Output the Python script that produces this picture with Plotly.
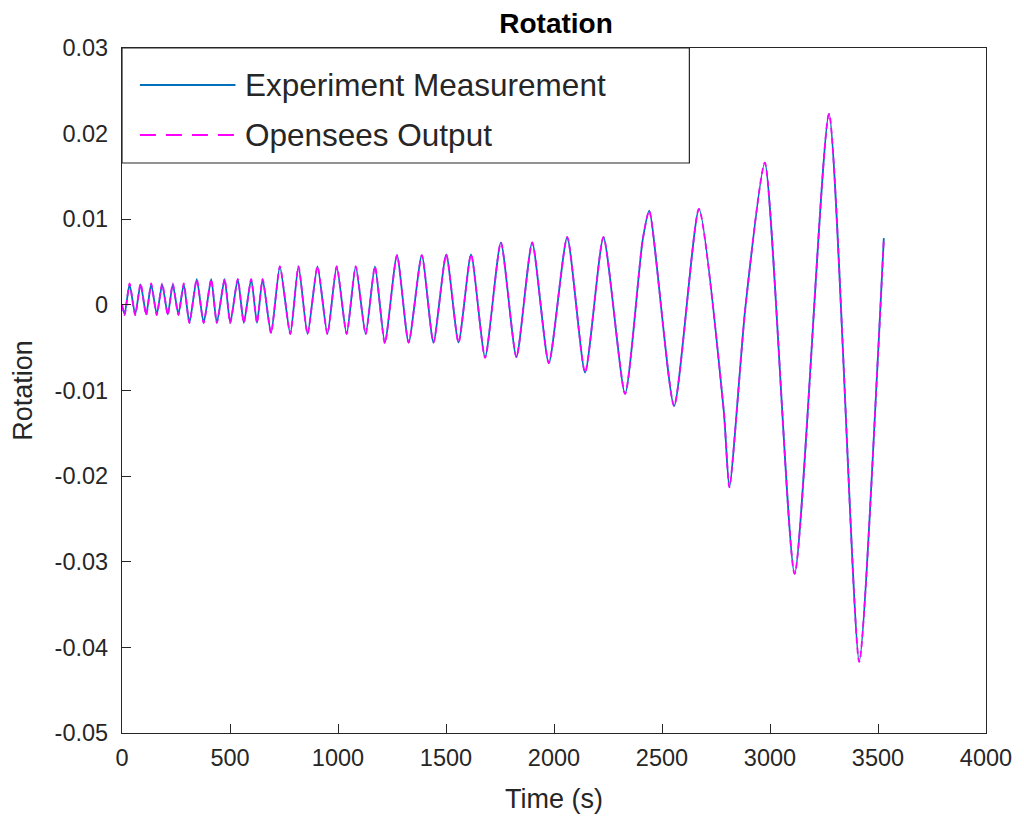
import plotly.graph_objects as go

# Time samples (s) at the turning points
time_s = [0, 12, 35, 61, 86, 112, 135, 161, 186, 212, 235, 261, 286, 312, 346, 378, 413, 439,
          475, 501, 536, 564, 598, 625, 651, 690, 731, 779, 817, 859, 905, 951, 994, 1040,
          1082, 1128, 1171, 1217, 1273, 1327, 1388, 1442, 1501, 1558, 1616, 1681, 1754, 1826,
          1899, 1976, 2061, 2144, 2229, 2329, 2410, 2441, 2556, 2671, 2786, 2812, 2886, 2976,
          3114, 3273, 3413, 3501, 3527]

exp_rotation = [0.0, -0.0011, 0.0024, -0.0011, 0.0024, -0.0011, 0.0024, -0.0011, 0.0024, -0.0011,
                0.0024, -0.0011, 0.0024, -0.0021, 0.003, -0.0021, 0.003, -0.0021, 0.003, -0.0021,
                0.003, -0.0021, 0.003, -0.0021, 0.003, -0.0033, 0.0045, -0.0034, 0.0045, -0.0034,
                0.0045, -0.0034, 0.0045, -0.0034, 0.0045, -0.0034, 0.0045, -0.0044, 0.0058, -0.0044,
                0.0058, -0.0044, 0.0059, -0.0044, 0.0059, -0.0061, 0.0073, -0.0061, 0.0073, -0.0068,
                0.0079, -0.0079, 0.0079, -0.0104, 0.0075, 0.011, -0.0118, 0.0112, -0.0124, -0.0213,
                -0.0003, 0.0166, -0.0314, 0.0223, -0.0416, -0.0054, 0.0078]

opensees_rotation = [0.0, -0.0012, 0.0025, -0.0012, 0.0025, -0.0012, 0.0025, -0.0012, 0.0025, -0.0012,
                     0.0025, -0.0012, 0.0025, -0.0021, 0.003, -0.0021, 0.003, -0.0021, 0.003, -0.0021,
                     0.003, -0.0021, 0.003, -0.0021, 0.003, -0.0033, 0.0045, -0.0034, 0.0045, -0.0034,
                     0.0045, -0.0034, 0.0045, -0.0034, 0.0045, -0.0034, 0.0045, -0.0045, 0.0058, -0.0044,
                     0.0058, -0.0044, 0.0059, -0.0044, 0.0059, -0.0062, 0.0073, -0.0061, 0.0073, -0.0068,
                     0.0079, -0.0079, 0.0079, -0.0104, 0.0075, 0.011, -0.0118, 0.0112, -0.0124, -0.0213,
                     -0.0003, 0.0166, -0.0314, 0.0223, -0.0417, -0.0054, 0.0078]

x_ticks = [0, 500, 1000, 1500, 2000, 2500, 3000, 3500, 4000]
x_tick_labels = ["0", "500", "1000", "1500", "2000", "2500", "3000", "3500", "4000"]
y_ticks = [0.03, 0.02, 0.01, 0, -0.01, -0.02, -0.03, -0.04, -0.05]
y_tick_labels = ["0.03", "0.02", "0.01", "0", "-0.01", "-0.02", "-0.03", "-0.04", "-0.05"]
legend_labels = ["Experiment Measurement", "Opensees Output"]

BLUE = "#0072BD"
MAGENTA = "#FF00FF"
INK = "#262626"
FONT = "Liberation Sans, Arial, Helvetica, sans-serif"

fig = go.Figure()
fig.add_trace(go.Scatter(x=time_s, y=exp_rotation, mode="lines", name=legend_labels[0],
                         line=dict(color=BLUE, width=1.8, shape="spline", smoothing=0.6),
                         showlegend=False))
fig.add_trace(go.Scatter(x=time_s, y=opensees_rotation, mode="lines", name=legend_labels[1],
                         line=dict(color=MAGENTA, width=1.8, dash="6px,4px", shape="spline", smoothing=0.6),
                         showlegend=False))

W, H = 1024, 826
L, R, T, B = 122, 34, 48, 93
pw, ph = W - L - R, H - T - B

def px(xp):
    return (xp - L) / pw

def py(yp):
    return 1 - (yp - T) / ph

# manual legend box (MATLAB style)
fig.add_shape(type="rect", xref="paper", yref="paper", x0=px(122), x1=px(692), y0=py(163), y1=py(48),
              line=dict(color=INK, width=1.2), fillcolor="white", layer="above")
fig.add_shape(type="line", xref="paper", yref="paper", x0=px(140), x1=px(236), y0=py(85), y1=py(85),
              line=dict(color=BLUE, width=1.8), layer="above")
fig.add_shape(type="line", xref="paper", yref="paper", x0=px(140), x1=px(236), y0=py(135), y1=py(135),
              line=dict(color=MAGENTA, width=1.8, dash="16px,10px"), layer="above")
for lbl, yy in zip(legend_labels, [85, 135]):
    fig.add_annotation(xref="paper", yref="paper", x=px(244), y=py(yy), text=lbl, showarrow=False,
                       xanchor="left", yanchor="middle", font=dict(family=FONT, size=31.5, color=INK))

axis_common = dict(showline=True, linecolor=INK, linewidth=1.2, mirror=True, ticks="inside",
                   ticklen=9, tickcolor=INK, showgrid=False, zeroline=False,
                   tickfont=dict(family=FONT, size=23.5, color=INK))

fig.update_layout(
    width=W, height=H,
    margin=dict(l=L, r=R, t=T, b=B),
    paper_bgcolor="white", plot_bgcolor="white",
    title=dict(text="<b>Rotation</b>", x=(L + pw / 2) / W, xanchor="center", y=1 - 23 / H, yanchor="middle",
               font=dict(family=FONT, size=28, color="black")),
    xaxis=dict(range=[0, 4000], tickvals=x_ticks, ticktext=x_tick_labels, ticklabelstandoff=4,
               title=dict(text="Time (s)", font=dict(family=FONT, size=27, color=INK), standoff=18),
               **axis_common),
    yaxis=dict(range=[-0.05, 0.03], tickvals=y_ticks, ticktext=y_tick_labels, ticklabelstandoff=8,
               title=dict(text="Rotation", font=dict(family=FONT, size=27, color=INK), standoff=14),
               **axis_common),
)

fig.write_html("out.html")
